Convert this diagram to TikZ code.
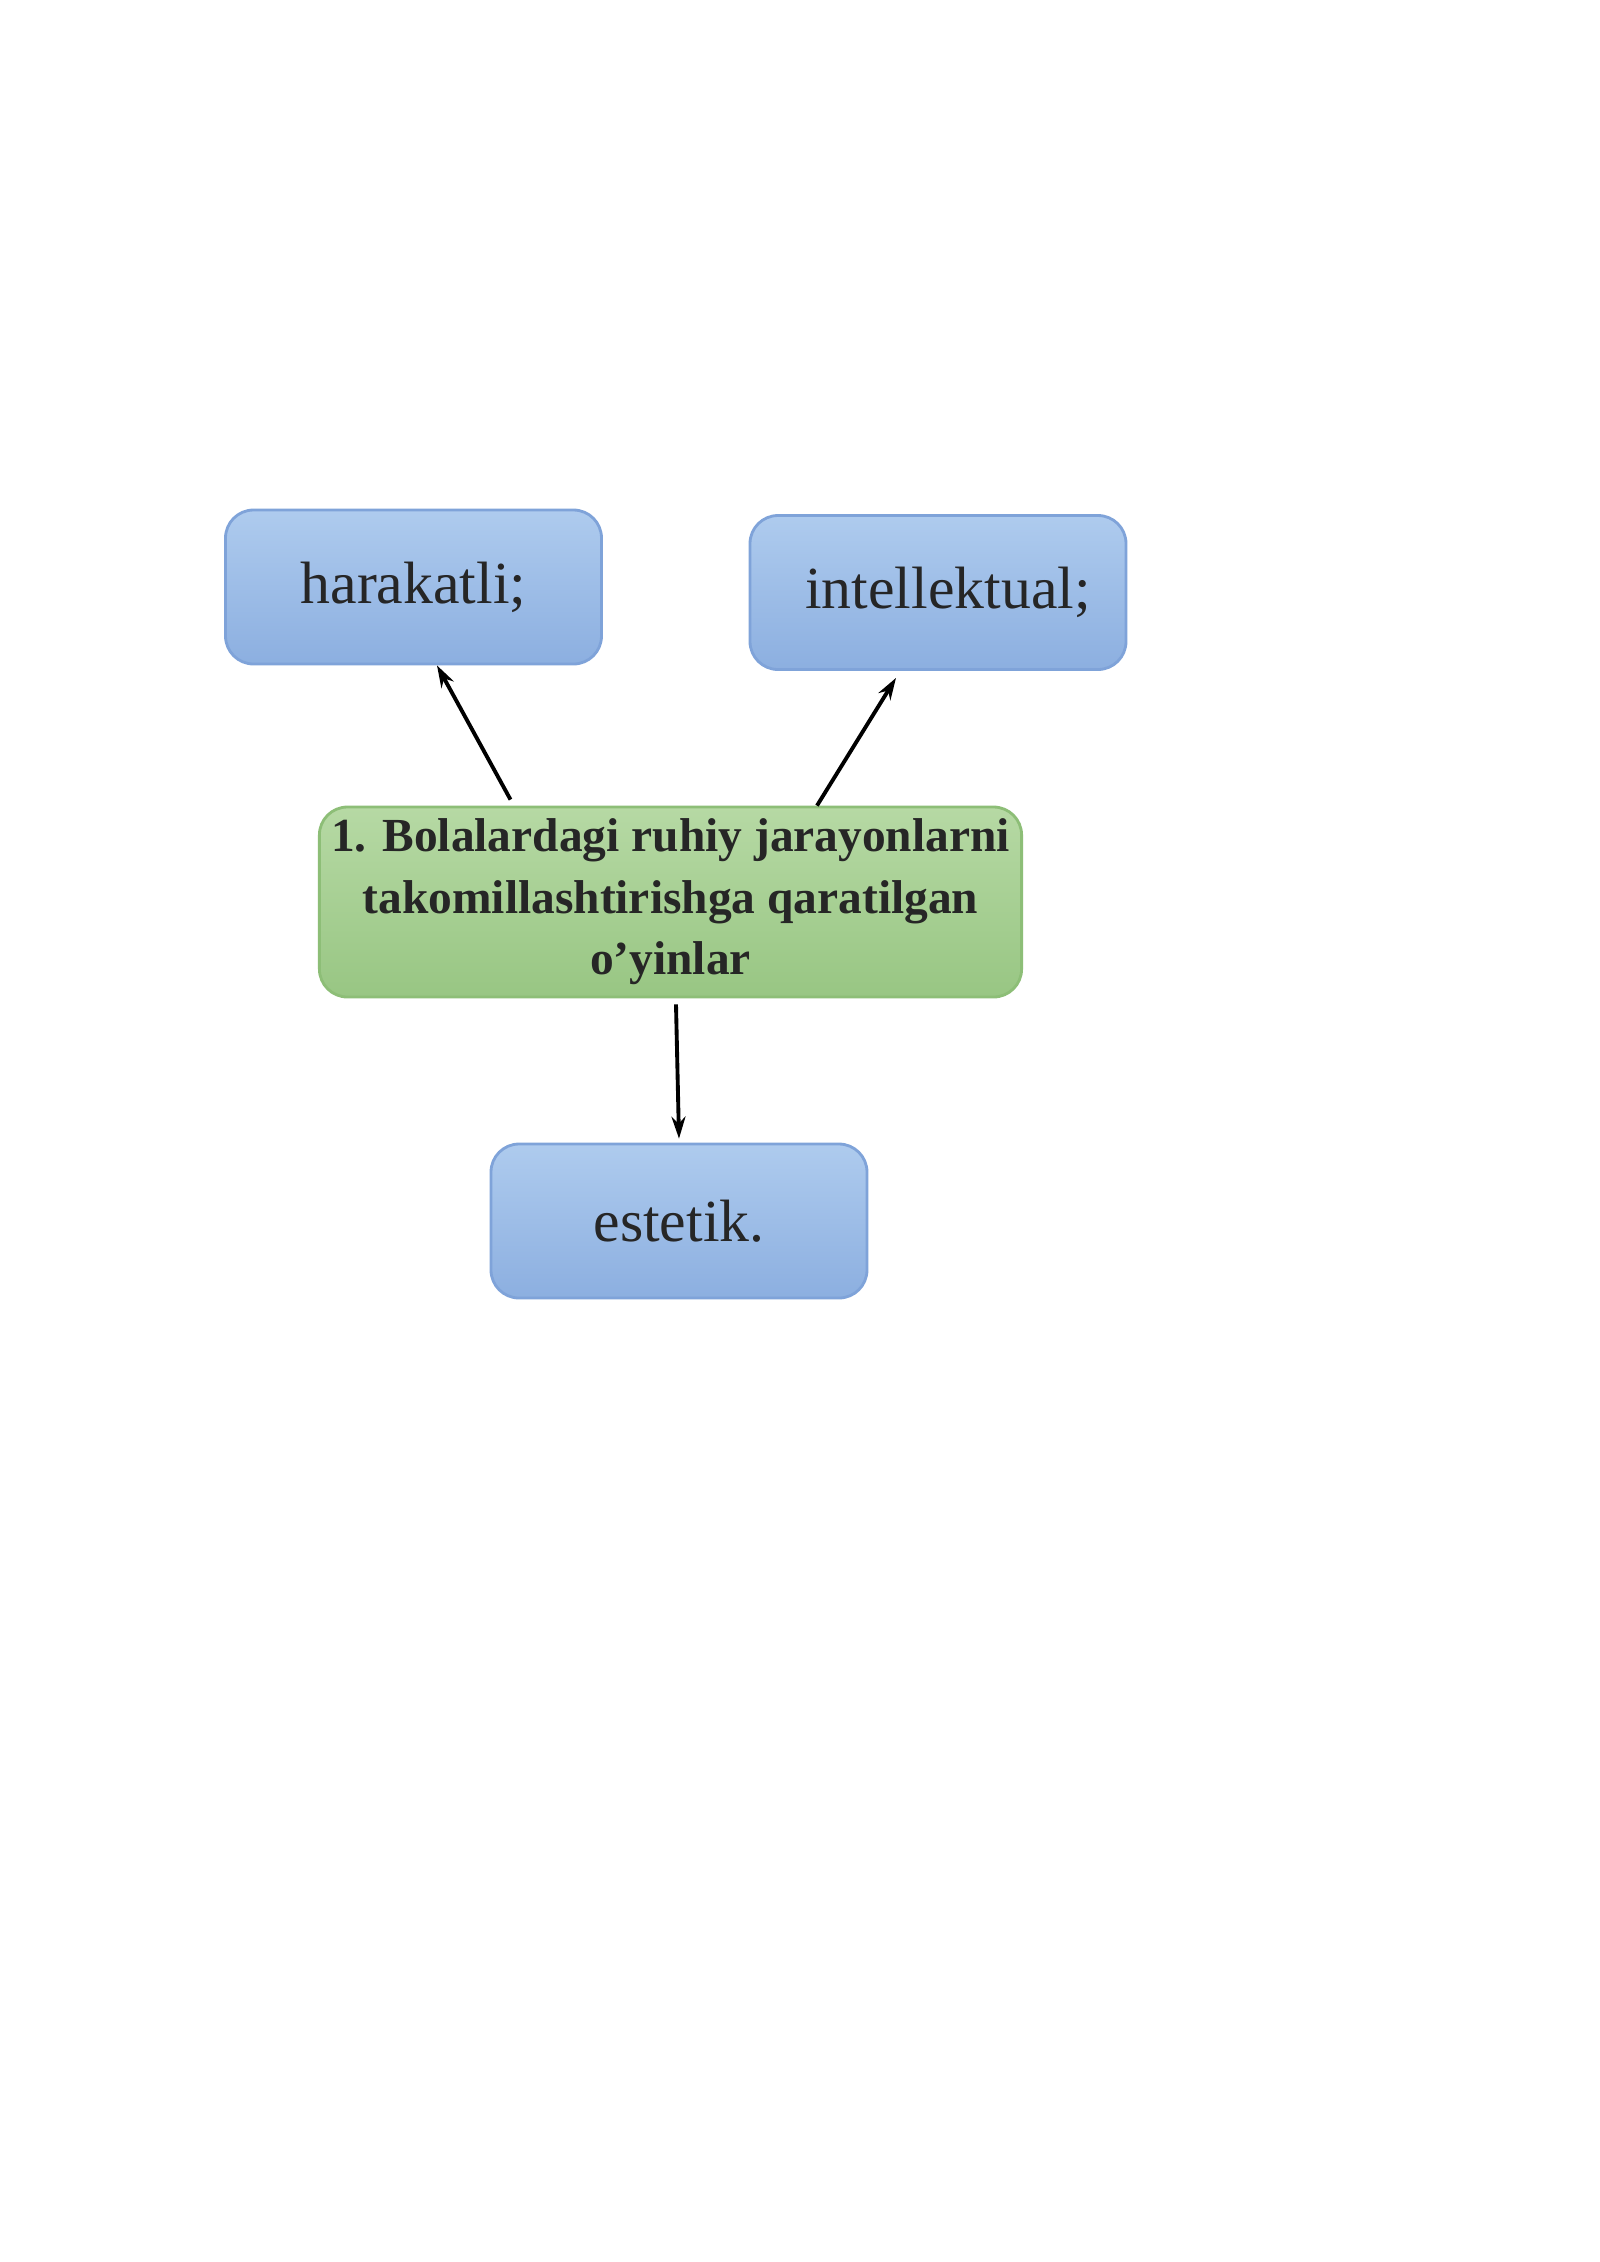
\documentclass[tikz,border=0pt]{standalone}
\usepackage{fontspec}
\setmainfont{Liberation Serif}
\usetikzlibrary{arrows.meta}
\definecolor{btop}{HTML}{AECBEE}
\definecolor{bbot}{HTML}{8CAFE0}
\definecolor{bline}{HTML}{7FA3D9}
\definecolor{gtop}{HTML}{B6D9A4}
\definecolor{gbot}{HTML}{98C683}
\definecolor{gline}{HTML}{8DBE77}
\tikzset{
  bluebox/.style={draw=bline, line width=0.8pt, rounded corners=0.28cm, top color=btop, bottom color=bbot, minimum width=3.76cm, minimum height=1.54cm, font=\fontsize{17}{20}\selectfont, text=black!85},
  greenbox/.style={draw=gline, line width=0.8pt, rounded corners=0.28cm, top color=gtop, bottom color=gbot, minimum width=5.87cm, minimum height=1.9cm, align=center, font=\bfseries\fontsize{13.5}{17.5}\selectfont, text=black!85},
  arr/.style={-{Stealth[length=0.22cm,width=0.14cm]}, line width=1.1pt}
}
\begin{document}
\begin{tikzpicture}
\useasboundingbox (0,0) rectangle (16,-22.62);
\fill[white] (0,0) rectangle (16,-22.62);
\node[bluebox] (h) at (4.135,-5.87) {harakatli;};
\node[bluebox] (i) at (9.38,-5.925) {\hspace{0.2cm}intellektual;};
\node[greenbox] (c) at (6.705,-9.02) {1. Bolalardagi ruhiy jarayonlarni\\takomillashtirishga qaratilgan\\o’yinlar};
\node[bluebox] (e) at (6.79,-12.21) {estetik.};
\draw[arr] ([xshift=-1.6cm,yshift=0.06cm]c.north) -- ([xshift=0.235cm]h.south);
\draw[arr] ([xshift=1.465cm]c.north) -- ([xshift=-0.42cm,yshift=-0.07cm]i.south);
\draw[arr] ([xshift=0.055cm,yshift=-0.06cm]c.south) -- ([yshift=0.04cm]e.north);
\end{tikzpicture}
\end{document}
